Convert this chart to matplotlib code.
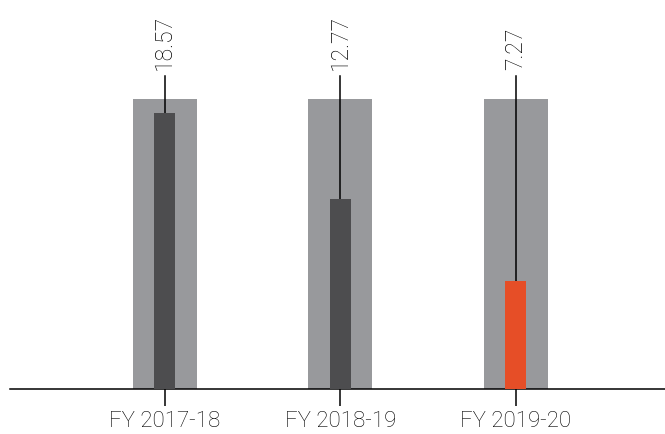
import numpy as np
import matplotlib.pyplot as plt

years = ["FY 2017-18", "FY 2018-19", "FY 2019-20"]
values = [18.57, 12.77, 7.27]
bar_colors = ["#4d4d4f", "#4d4d4f", "#e64e27"]

plt.rcParams['font.family'] = ['Roboto', 'DejaVu Sans']

fig = plt.figure(figsize=(6.65, 4.35), dpi=100)
ax = fig.add_axes([10 / 665, 45 / 435, 655 / 665, 390 / 435])

x = np.arange(len(years))
ppu = 276 / 18.57  # pixels per unit
top = 390 / ppu
bg = max(values) * 1.05

ax.bar(x, [bg] * len(x), width=0.365, color="#98999c", zorder=1)
ax.bar(x, values, width=0.12, color=bar_colors, zorder=3)

line_top = (390 - 77) / ppu
label_y = (390 - 70) / ppu
for xi, v in zip(x, values):
    ax.plot([xi, xi], [v, line_top], color="black", lw=1.1, zorder=2)
    ax.text(xi, label_y, f"{v:.2f}", rotation=90, ha="center", va="bottom",
            fontsize=16.5, fontweight="light", color="black")

ax.set_xlim(-0.883, 2.85)
ax.set_ylim(0, top)
ax.set_xticks(x)
ax.set_xticklabels(years, fontsize=16, fontweight="light", color="black")
ax.tick_params(axis="x", length=12, width=1.1, pad=3)
ax.set_yticks([])
for s in ["top", "right", "left"]:
    ax.spines[s].set_visible(False)
ax.spines["bottom"].set_linewidth(1.1)

fig.savefig("out.png", dpi=100)
